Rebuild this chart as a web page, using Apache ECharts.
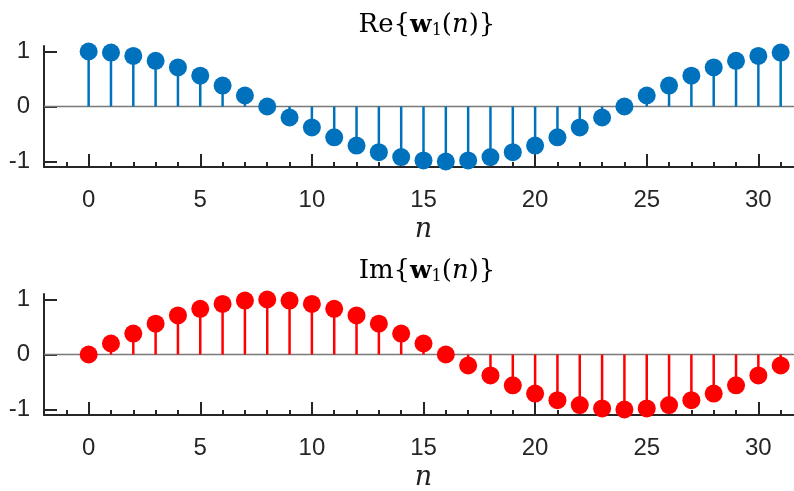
<!DOCTYPE html>
<html><head><meta charset="utf-8">
<script src="https://cdn.jsdelivr.net/npm/echarts@6/dist/echarts.min.js"></script>
<style>html,body{margin:0;padding:0;background:#fff}#c{width:794px;height:491px}</style>
</head><body><div id="c"></div>
<script>
const n = [0,1,2,3,4,5,6,7,8,9,10,11,12,13,14,15,16,17,18,19,20,21,22,23,24,25,26,27,28,29,30,31];
const reVals = [1,0.98,0.92,0.83,0.71,0.56,0.38,0.2,0,-0.2,-0.38,-0.56,-0.71,-0.83,-0.92,-0.98,-1,-0.98,-0.92,-0.83,-0.71,-0.56,-0.38,-0.2,0,0.2,0.38,0.56,0.71,0.83,0.92,0.98];
const imVals = [0,0.2,0.38,0.56,0.71,0.83,0.92,0.98,1,0.98,0.92,0.83,0.71,0.56,0.38,0.2,0,-0.2,-0.38,-0.56,-0.71,-0.83,-0.92,-0.98,-1,-0.98,-0.92,-0.83,-0.71,-0.56,-0.38,-0.2];
const xMajorTicks = [0,5,10,15,20,25,30];
const xMinorTicks = [-1,0,1,2,3,4,5,6,7,8,9,10,11,12,13,14,15,16,17,18,19,20,21,22,23,24,25,26,27,28,29,30,31,32];
const yTicks = [-1,0,1];
const xName = 'n';

const AX = '#262626';
const chart = echarts.init(document.getElementById('c'), null, {renderer:'canvas'});

const titleRich = {
  b:{fontFamily:'DejaVu Serif', fontWeight:'bold', fontSize:25, color:'#000'},
  c:{fontFamily:'DejaVu Serif', fontSize:16, color:'#000', padding:[12,0,0,0]},
  d:{fontFamily:'DejaVu Serif', fontStyle:'italic', fontSize:26, color:'#000'}
};
function mkTitle(prefix, top){
  return {text: prefix + '{{b|w}{c|1}({d|n})}', left:422, top:top, textAlign:'center',
    textStyle:{fontFamily:'DejaVu Serif', fontSize:26, fontWeight:'normal', color:'#000', rich:titleRich}};
}

function xAxes(gi){
  return [{
    type:'value', gridIndex:gi, min:-2, max:32, position:'bottom',
    axisLine:{show:true, onZero:false, lineStyle:{color:AX, width:2}},
    axisTick:{show:true, inside:true, length:13, customValues:xMajorTicks, lineStyle:{color:AX, width:2}},
    axisLabel:{show:true, customValues:xMajorTicks, margin:21, fontFamily:'Liberation Sans', fontSize:24, color:AX},
    splitLine:{show:false},
    name:xName, nameLocation:'middle', nameGap:49, nameMoveOverlap:false,
    nameTextStyle:{fontFamily:'DejaVu Serif', fontStyle:'italic', fontSize:27, color:'#222'}
  },{
    type:'value', gridIndex:gi, min:-2, max:32, position:'bottom',
    axisLine:{show:false, onZero:false},
    axisTick:{show:true, inside:true, length:5, customValues:xMinorTicks, lineStyle:{color:AX, width:2}},
    axisLabel:{show:false}, splitLine:{show:false}
  }];
}
function yAxis(gi){
  return {
    type:'value', gridIndex:gi, min:-1.1, max:1.1,
    axisLine:{show:true, onZero:false, lineStyle:{color:AX, width:2}},
    axisTick:{show:true, inside:true, length:13, customValues:yTicks, lineStyle:{color:AX, width:2}},
    axisLabel:{show:true, customValues:yTicks, margin:14, fontFamily:'Liberation Sans', fontSize:24, color:AX},
    splitLine:{show:false}
  };
}
function stemSeries(vals, gi, color){
  const data = n.map((x,i)=>[x, vals[i]]);
  return [{
    type:'custom', xAxisIndex:gi*2, yAxisIndex:gi, data:data, z:3, silent:true, clip:false,
    renderItem:function(params, api){
      const p0 = api.coord([api.value(0), 0]);
      const p1 = api.coord([api.value(0), api.value(1)]);
      return {type:'line', shape:{x1:p0[0], y1:p0[1], x2:p1[0], y2:p1[1]}, style:{stroke:color, lineWidth:2.5}};
    },
    markLine:{silent:true, symbol:'none', label:{show:false}, lineStyle:{color:'#7a7a7a', width:1.3, type:'solid'}, data:[{yAxis:0}], z:2}
  },{
    type:'scatter', xAxisIndex:gi*2, yAxisIndex:gi, data:data, symbol:'circle', symbolSize:18, z:4, clip:false,
    itemStyle:{color:color, opacity:1}, silent:true
  }];
}

chart.setOption({
  animation:false,
  title:[mkTitle('Re', 6), mkTitle('Im', 252)],
  grid:[{left:44, top:46, width:759, height:121, outerBoundsMode:'none', containLabel:false},
        {left:44, top:294, width:759, height:121, outerBoundsMode:'none', containLabel:false}],
  xAxis:[...xAxes(0), ...xAxes(1)],
  yAxis:[yAxis(0), yAxis(1)],
  series:[...stemSeries(reVals, 0, '#0072BD'), ...stemSeries(imVals, 1, '#FF0000')]
});
</script></body></html>
